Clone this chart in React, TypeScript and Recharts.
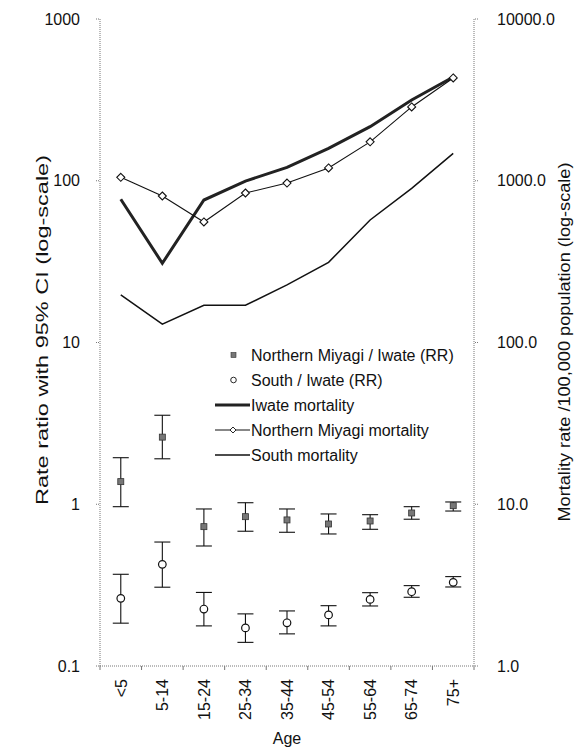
import {
  ComposedChart,
  Line,
  XAxis,
  YAxis,
  ErrorBar,
} from "recharts";

// Age groups
const ages = ["<5", "5-14", "15-24", "25-34", "35-44", "45-54", "55-64", "65-74", "75+"];

// Rate ratios with 95% CI (left axis)
const northRR = [1.38, 2.6, 0.727, 0.838, 0.8, 0.755, 0.788, 0.883, 0.98];
const northLow = [0.966, 1.91, 0.552, 0.681, 0.671, 0.655, 0.7, 0.808, 0.908];
const northHigh = [1.94, 3.55, 0.935, 1.022, 0.935, 0.871, 0.862, 0.966, 1.033];
const southRR = [0.262, 0.425, 0.225, 0.172, 0.185, 0.207, 0.258, 0.288, 0.329];
const southLow = [0.184, 0.307, 0.177, 0.14, 0.158, 0.177, 0.235, 0.266, 0.308];
const southHigh = [0.369, 0.584, 0.285, 0.21, 0.219, 0.236, 0.284, 0.314, 0.357];

// Mortality per 100,000 (right axis)
const iwateMort = [768, 309, 760, 996, 1210, 1587, 2160, 3156, 4380];
const northMort = [1050, 805, 556, 840, 968, 1200, 1740, 2860, 4320];
const southMort = [197, 130, 170, 170, 227, 313, 572, 898, 1478];

const leftTicks = [0.1, 1, 10, 100, 1000];
const rightTicks = [1, 10, 100, 1000, 10000];

const legendLabels = [
  "Northern Miyagi / Iwate (RR)",
  "South / Iwate (RR)",
  "Iwate mortality",
  "Northern Miyagi mortality",
  "South mortality",
];

const data = ages.map((age, i) => ({
  age,
  northRR: northRR[i],
  northErr: [northRR[i] - northLow[i], northHigh[i] - northRR[i]],
  southRR: southRR[i],
  southErr: [southRR[i] - southLow[i], southHigh[i] - southRR[i]],
  iwateMort: iwateMort[i],
  northMort: northMort[i],
  southMort: southMort[i],
}));

const FONT = "'Liberation Sans', Arial, sans-serif";
const INK = "#111";
const AXIS = { stroke: "#777", strokeDasharray: "1 1" };

const W = 583;
const H = 749;
const PLOT_L = 100;
const PLOT_R = 474;
const HALF_BAND = (PLOT_R - PLOT_L) / ages.length / 2;

function AgeTick(props: any) {
  const { x, y, payload, index } = props;
  const ty = y + 13;
  return (
    <g>
      {index === 0 && (
        <line x1={x - HALF_BAND} x2={x - HALF_BAND} y1={y} y2={y + 4} stroke="#777" />
      )}
      <line x1={x + HALF_BAND} x2={x + HALF_BAND} y1={y} y2={y + 4} stroke="#777" />
      <text
        x={x}
        y={ty}
        transform={`rotate(-90, ${x}, ${ty})`}
        textAnchor="end"
        dy="0.36em"
        fontSize={16}
        fontFamily={FONT}
        fill={INK}
      >
        {payload.value}
      </text>
    </g>
  );
}

// rotated axis title; tx is the baseline position, ty the centre
function AxisTitle(props: any) {
  const { tx, ty, text, len } = props;
  return (
    <text
      x={tx}
      y={ty}
      transform={`rotate(-90, ${tx}, ${ty})`}
      textAnchor="middle"
      fontSize={16.5}
      fontFamily={FONT}
      fill={INK}
      textLength={len}
      lengthAdjust="spacingAndGlyphs"
    >
      {text}
    </text>
  );
}

const squareDot = (p: any) => (
  <rect key={`sq${p.index}`} x={p.cx - 3} y={p.cy - 3} width={6} height={6} fill="#777" stroke="#333" strokeWidth={0.8} />
);
const circleDot = (p: any) => (
  <circle key={`ci${p.index}`} cx={p.cx} cy={p.cy} r={3.8} fill="#fff" stroke={INK} strokeWidth={1.2} />
);
const diamondDot = (p: any) => (
  <polygon
    key={`di${p.index}`}
    points={`${p.cx},${p.cy - 4} ${p.cx + 4},${p.cy} ${p.cx},${p.cy + 4} ${p.cx - 4},${p.cy}`}
    fill="#fff"
    stroke={INK}
    strokeWidth={1.1}
  />
);

function ChartLegend() {
  const rowY = (i: number) => 12 + i * 25;
  return (
    <svg
      width={270}
      height={130}
      style={{ position: "absolute", left: 205, top: 343, overflow: "visible" }}
    >
      <rect x={26} y={rowY(0) - 2.5} width={5} height={5} fill="#777" stroke="#333" strokeWidth={0.6} />
      <circle cx={28.5} cy={rowY(1)} r={2.8} fill="#fff" stroke={INK} strokeWidth={0.9} />
      <line x1={10} x2={45} y1={rowY(2)} y2={rowY(2)} stroke="#222" strokeWidth={3} />
      <line x1={10} x2={45} y1={rowY(3)} y2={rowY(3)} stroke={INK} strokeWidth={1} />
      <polygon
        points={`28,${rowY(3) - 3} 31,${rowY(3)} 28,${rowY(3) + 3} 25,${rowY(3)}`}
        fill="#fff"
        stroke={INK}
        strokeWidth={0.9}
      />
      <line x1={10} x2={45} y1={rowY(4)} y2={rowY(4)} stroke={INK} strokeWidth={1.5} />
      {legendLabels.map((t, i) => (
        <text
          key={t}
          x={46}
          y={rowY(i)}
          dy="0.36em"
          fontSize={16}
          fontFamily={FONT}
          fill={INK}
        >
          {t}
        </text>
      ))}
    </svg>
  );
}

export default function App() {
  return (
    <div style={{ position: "relative", width: W, height: H, background: "#fff" }}>
      <style>{"body{margin:0}"}</style>
      <ComposedChart width={W} height={H} data={data} margin={{ top: 19, right: 0, bottom: 0, left: 0 }}>
        <XAxis
          dataKey="age"
          height={83}
          interval={0}
          padding={{ left: HALF_BAND, right: HALF_BAND }}
          axisLine={AXIS}
          tickLine={false}
          tickSize={0}
          tickMargin={0}
          tick={<AgeTick />}
          label={{ value: "Age", position: "insideBottom", offset: 5, fontSize: 16, fontFamily: FONT, fill: INK }}
        />
        <YAxis
          yAxisId="rr"
          orientation="left"
          width={100}
          scale="log"
          domain={[0.1, 1000]}
          allowDataOverflow
          ticks={leftTicks}
          tickFormatter={(v: number) => String(v)}
          axisLine={AXIS}
          tickLine={AXIS}
          tickSize={4}
          tickMargin={16}
          tick={{ fontSize: 16, fontFamily: FONT, fill: INK }}
          label={<AxisTitle tx={48} ty={330} len={350} text="Rate ratio with 95% CI (log-scale)" />}
        />
        <YAxis
          yAxisId="mort"
          orientation="right"
          width={109}
          scale="log"
          domain={[1, 10000]}
          allowDataOverflow
          ticks={rightTicks}
          tickFormatter={(v: number) => v.toFixed(1)}
          axisLine={AXIS}
          tickLine={AXIS}
          tickSize={4}
          tickMargin={19}
          tick={{ fontSize: 16, fontFamily: FONT, fill: INK }}
          label={<AxisTitle tx={570} ty={342} len={359} text="Mortality rate /100,000 population (log-scale)" />}
        />
        <Line
          yAxisId="mort"
          dataKey="southMort"
          stroke={INK}
          strokeWidth={1.5}
          dot={false}
          activeDot={false}
          isAnimationActive={false}
        />
        <Line
          yAxisId="mort"
          dataKey="iwateMort"
          stroke="#222"
          strokeWidth={3}
          dot={false}
          activeDot={false}
          isAnimationActive={false}
        />
        <Line
          yAxisId="mort"
          dataKey="northMort"
          stroke={INK}
          strokeWidth={1.1}
          dot={diamondDot}
          activeDot={false}
          isAnimationActive={false}
        />
        <Line
          yAxisId="rr"
          dataKey="northRR"
          stroke="none"
          dot={squareDot}
          activeDot={false}
          isAnimationActive={false}
        >
          <ErrorBar dataKey="northErr" width={8} stroke={INK} strokeWidth={1.1} direction="y" />
        </Line>
        <Line
          yAxisId="rr"
          dataKey="southRR"
          stroke="none"
          dot={circleDot}
          activeDot={false}
          isAnimationActive={false}
        >
          <ErrorBar dataKey="southErr" width={8} stroke={INK} strokeWidth={1.1} direction="y" />
        </Line>
      </ComposedChart>
      <ChartLegend />
    </div>
  );
}
